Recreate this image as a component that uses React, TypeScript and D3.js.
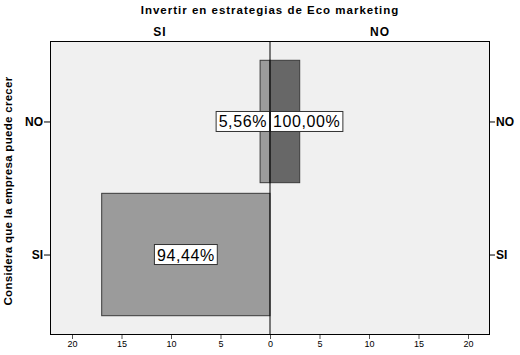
import React, { useEffect, useRef } from "react";
import * as d3 from "d3";

// categories of "Considera que la empresa puede crecer" (top to bottom)
const categories = ["NO", "SI"];
// panels: "Invertir en estrategias de Eco marketing"
const panels = ["SI", "NO"];
// counts per panel, indexed as categories
const countsSI = [1, 17];
const countsNO = [3, 0];
const xTicks = [0, 5, 10, 15, 20];

const App = () => {
  const svgRef = useRef<SVGSVGElement>(null);

  useEffect(() => {
    const width = 520;
    const height = 355;
    const left = 50;
    const right = 490;
    const top = 41;
    const bottom = 335;
    const mid = 270;
    const font = "Arial, 'Liberation Sans', sans-serif";

    const svg = d3.select(svgRef.current!);
    svg.selectAll("*").remove();
    svg.attr("width", width).attr("height", height);

    const xL = d3.scaleLinear().domain([0, 20]).range([mid, mid - 198]);
    const xR = d3.scaleLinear().domain([0, 20]).range([mid, mid + 198]);
    const y = d3.scalePoint<string>().domain(categories).range([top, bottom]).padding(0.605);
    const barH = y.step() * 0.92;

    // title
    svg.append("text")
      .attr("x", mid).attr("y", 14)
      .attr("text-anchor", "middle")
      .attr("font-family", font).attr("font-weight", "bold").attr("font-size", 11.5)
      .attr("letter-spacing", 1)
      .text("Invertir en estrategias de Eco marketing");

    svg.selectAll(".panel")
      .data(panels)
      .join("text")
      .attr("x", (d, i) => (i === 0 ? (left + mid) / 2 : (mid + right) / 2))
      .attr("y", 36)
      .attr("text-anchor", "middle")
      .attr("font-family", font).attr("font-weight", "bold").attr("font-size", 12)
      .attr("letter-spacing", 1)
      .text((d) => d);

    // plot background
    svg.append("rect")
      .attr("x", left).attr("y", top)
      .attr("width", right - left).attr("height", bottom - top)
      .attr("fill", "#f0f0f0");

    const totalSI = d3.sum(countsSI);
    const totalNO = d3.sum(countsNO);
    const fmt = (v: number) => d3.format(".2f")(v).replace(".", ",") + "%";

    const drawSide = (counts: number[], total: number, x: d3.ScaleLinear<number, number>, fill: string, dir: number) => {
      counts.forEach((c, i) => {
        if (c === 0) return;
        const cy = y(categories[i])!;
        const x0 = Math.min(x(0), x(c));
        const w = Math.abs(x(c) - x(0));
        svg.append("rect")
          .attr("x", x0).attr("y", cy - barH / 2)
          .attr("width", w).attr("height", barH)
          .attr("fill", fill).attr("stroke", "#3a3a3a").attr("stroke-width", 1);
      });
      counts.forEach((c, i) => {
        if (c === 0) return;
        const cy = y(categories[i])!;
        const label = fmt((c / total) * 100);
        const g = svg.append("g");
        const t = g.append("text")
          .attr("y", cy + 6)
          .attr("font-family", font).attr("font-size", 16)
          .attr("letter-spacing", 0.6)
          .attr("fill", "#000")
          .text(label);
        const tw = (t.node() as SVGTextElement).getComputedTextLength();
        const w = Math.abs(x(c) - x(0));
        let cx: number;
        if (tw + 6 < w) cx = (x(0) + x(c)) / 2;
        else cx = mid + dir * (tw / 2 + 3);
        t.attr("x", cx).attr("text-anchor", "middle");
        g.insert("rect", "text")
          .attr("x", cx - tw / 2 - 2.5).attr("y", cy - 10)
          .attr("width", tw + 5).attr("height", 20)
          .attr("fill", "#fff").attr("stroke", "#333").attr("stroke-width", 1);
      });
    };

    drawSide(countsSI, totalSI, xL, "#9b9b9b", -1);
    drawSide(countsNO, totalNO, xR, "#676767", 1);

    // center line & frame
    svg.append("line")
      .attr("x1", mid).attr("x2", mid).attr("y1", top).attr("y2", bottom)
      .attr("stroke", "#000");
    svg.append("rect")
      .attr("x", left + 0.5).attr("y", top + 0.5)
      .attr("width", right - left - 1).attr("height", bottom - top - 1)
      .attr("fill", "none").attr("stroke", "#000");

    // x axes
    const axisL = svg.append("g").attr("transform", `translate(0,${bottom})`)
      .call(d3.axisBottom(xL).tickValues(xTicks).tickSize(4).tickSizeOuter(0));
    const axisR = svg.append("g").attr("transform", `translate(0,${bottom})`)
      .call(d3.axisBottom(xR).tickValues(xTicks.slice(1)).tickSize(4).tickSizeOuter(0));
    [axisL, axisR].forEach((a) => {
      a.select(".domain").remove();
      a.selectAll("line").attr("stroke", "#555");
      a.selectAll("text").attr("font-family", font).attr("font-size", 9).attr("fill", "#000").attr("dy", "0.6em");
    });

    // y axes
    const yl = svg.append("g").attr("transform", `translate(${left},0)`)
      .call(d3.axisLeft(y).tickSize(6).tickSizeOuter(0));
    const yr = svg.append("g").attr("transform", `translate(${right},0)`)
      .call(d3.axisRight(y).tickSize(5).tickSizeOuter(0));
    [yl, yr].forEach((a) => {
      a.select(".domain").remove();
      a.selectAll("line").attr("stroke", "#000");
      a.selectAll("text").attr("font-family", font).attr("font-weight", "bold").attr("font-size", 12).attr("fill", "#000");
    });
    yl.selectAll("text").attr("x", -7);
    yr.selectAll("text").attr("x", 6);

    svg.append("text")
      .attr("transform", `translate(12,${(top + bottom) / 2 + 3}) rotate(-90)`)
      .attr("text-anchor", "middle")
      .attr("font-family", font).attr("font-weight", "bold").attr("font-size", 11.5)
      .attr("letter-spacing", 0.3)
      .text("Considera que la empresa puede crecer");
  }, []);

  return <svg ref={svgRef} style={{ position: "absolute", left: 0, top: 0 }}></svg>;
};

export default App;
